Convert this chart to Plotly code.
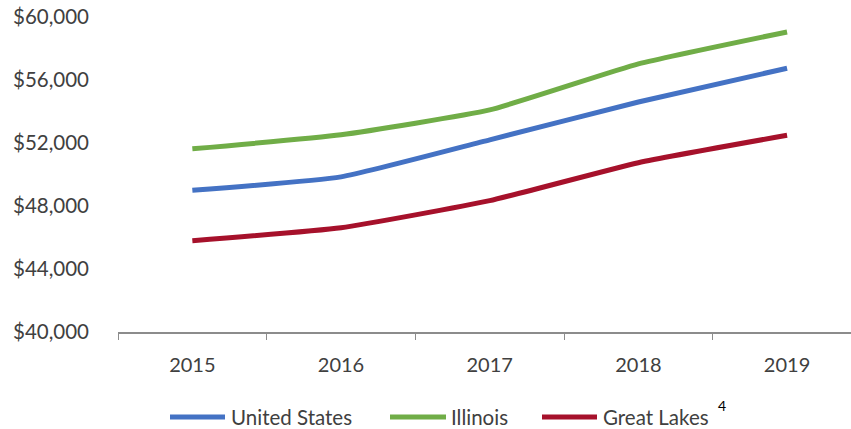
import plotly.graph_objects as go

years = ["2015", "2016", "2017", "2018", "2019"]
united_states = [49000, 49850, 52200, 54600, 56750]
illinois = [51630, 52520, 54100, 57020, 59050]
great_lakes = [45800, 46620, 48340, 50750, 52490]
y_ticks = [40000, 44000, 48000, 52000, 56000, 60000]
y_tick_labels = ["$40,000", "$44,000", "$48,000", "$52,000", "$56,000", "$60,000"]

series = [
    ("United States", united_states, "#4472C4"),
    ("Illinois", illinois, "#70AD47"),
    ("Great Lakes", great_lakes, "#A6112B"),
]

W, H = 851, 429
L, R, T, B = 118, 0, 17, 97
pw, ph = W - L - R, H - T - B

def px(x):
    return (x - L) / pw

def py(y):
    return (H - B - y) / ph

fig = go.Figure()
for name, vals, col in series:
    fig.add_trace(go.Scatter(
        x=years, y=vals, mode="lines", name=name,
        line=dict(color=col, width=5, shape="spline", smoothing=0.45),
        showlegend=False,
    ))

font = "Lato, 'Open Sans', sans-serif"
txt = "#404040"

# manual legend
legend_items = [
    ("United States", "#4472C4", 170, 225, 229),
    ("Illinois", "#70AD47", 390, 446, 449),
    ("Great Lakes", "#A6112B", 542, 597, 601),
]
shapes = []
annotations = []
ly = 417
for name, col, x0, x1, tx in legend_items:
    shapes.append(dict(type="line", xref="paper", yref="paper",
                       x0=px(x0), x1=px(x1), y0=py(ly), y1=py(ly),
                       line=dict(color=col, width=5)))
    annotations.append(dict(xref="paper", yref="paper", x=px(tx), y=py(ly),
                            text=name, showarrow=False, xanchor="left", yanchor="middle",
                            font=dict(family=font, size=20.5, color=txt)))
annotations.append(dict(xref="paper", yref="paper", x=px(716), y=py(405),
                        text="4", showarrow=False, xanchor="left", yanchor="middle",
                        font=dict(family=font, size=14, color="#000000")))

fig.update_layout(
    width=W, height=H,
    margin=dict(l=L, r=R, t=T, b=B, pad=0),
    paper_bgcolor="white", plot_bgcolor="white",
    font=dict(family=font, size=20, color=txt),
    shapes=shapes, annotations=annotations,
    xaxis=dict(
        type="category", range=[-0.5, 4.43],
        showgrid=False, zeroline=False,
        showline=True, linecolor="#8C8C8C", linewidth=1.5,
        ticks="outside", tickson="boundaries", ticklen=6, tickcolor="#8C8C8C",
        tickfont=dict(family=font, size=20, color=txt),
        ticklabelstandoff=14,
    ),
    yaxis=dict(
        range=[40000, 60000], tickvals=y_ticks, ticktext=y_tick_labels,
        showgrid=False, zeroline=False, showline=False,
        tickfont=dict(family=font, size=20.5, color=txt),
        ticklabelstandoff=28,
    ),
)

fig.write_html(
    "out.html",
    config={"displayModeBar": False},
    post_script="document.body.style.margin='0';document.body.style.overflow='hidden';",
)
